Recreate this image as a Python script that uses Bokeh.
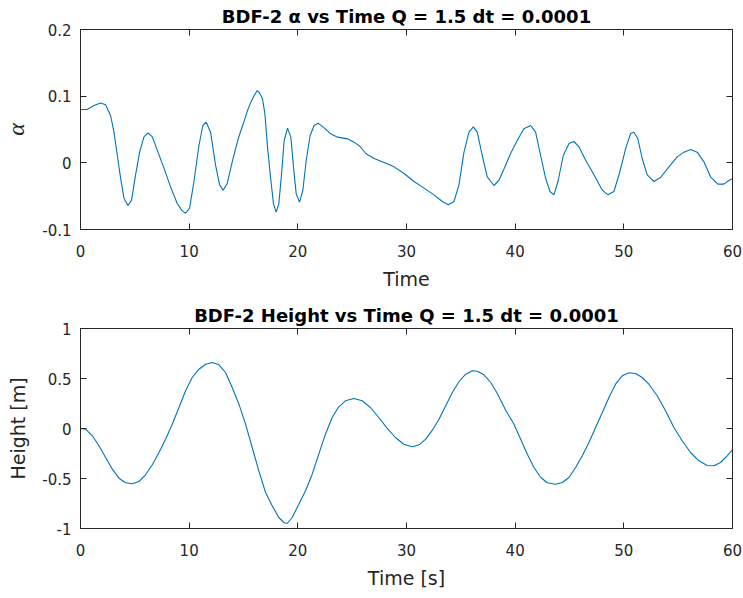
from bokeh.plotting import figure
from bokeh.layouts import column
from bokeh.models import Range1d, LinearAxis, FixedTicker, CustomJSTickFormatter
from bokeh.embed import file_html
from bokeh.resources import INLINE

# ---- data ----
alpha_time = [0.0, 0.63, 1.24, 1.85, 2.31, 2.77, 3.08, 3.39, 3.69, 4.0,
              4.37, 4.70, 5.07, 5.44, 5.84, 6.21, 6.61, 7.06, 7.68, 8.29,
              8.90, 9.36, 9.67, 10.04, 10.44, 10.9, 11.26, 11.57, 11.97, 12.43,
              12.8, 13.13, 13.5, 13.96, 14.51, 14.76, 15.03, 15.37, 15.65, 15.98,
              16.25, 16.44, 16.75, 16.97, 17.21, 17.52, 17.76, 18.01, 18.25, 18.5,
              18.74, 19.05, 19.36, 19.6, 19.85, 20.15, 20.46, 20.77, 21.13, 21.5,
              21.87, 22.42, 23.03, 23.65, 24.57, 25.18, 25.73, 26.25, 27.02, 27.94,
              28.86, 29.78, 30.69, 31.61, 32.53, 33.3, 33.85, 34.37, 34.83, 35.29,
              35.75, 36.15, 36.51, 36.97, 37.43, 38.05, 38.51, 39.12, 39.58, 40.2,
              40.8, 41.43, 41.88, 42.34, 42.8, 43.2, 43.57, 43.94, 44.43, 44.95,
              45.41, 45.87, 46.49, 47.25, 48.02, 48.54, 49.09, 49.64, 50.16, 50.62,
              50.93, 51.29, 51.69, 52.15, 52.77, 53.38, 54.15, 54.91, 55.53, 56.14,
              56.75, 57.37, 57.98, 58.65, 59.2, 59.82, 60.0]
alpha_vals = [0.080, 0.080, 0.086, 0.0896, 0.087, 0.071, 0.046, 0.011, -0.023, -0.053,
              -0.064, -0.056, -0.018, 0.016, 0.039, 0.045, 0.039, 0.019, -0.008, -0.036,
              -0.061, -0.072, -0.0756, -0.068, -0.028, 0.026, 0.056, 0.061, 0.046, -0.0035,
              -0.033, -0.041, -0.031, 0.0015, 0.036, 0.0485, 0.061, 0.0785, 0.09, 0.101,
              0.108, 0.106, 0.096, 0.0735, 0.0235, -0.0265, -0.0615, -0.074, -0.0615, -0.0165,
              0.0335, 0.052, 0.0385, -0.0065, -0.0465, -0.059, -0.0415, 0.0035, 0.041, 0.056,
              0.0595, 0.0525, 0.0435, 0.0385, 0.036, 0.031, 0.0245, 0.014, 0.0065, 0.0005,
              -0.006, -0.016, -0.028, -0.038, -0.048, -0.058, -0.063, -0.058, -0.033, 0.016,
              0.046, 0.054, 0.046, 0.011, -0.021, -0.034, -0.026, -0.0035, 0.014, 0.034,
              0.051, 0.056, 0.046, 0.011, -0.023, -0.043, -0.048, -0.028, 0.011, 0.029,
              0.032, 0.024, 0.004, -0.018, -0.041, -0.048, -0.043, -0.013, 0.021, 0.044,
              0.046, 0.036, 0.0065, -0.018, -0.028, -0.022, -0.006, 0.009, 0.016, 0.020,
              0.016, 0.0015, -0.021, -0.032, -0.032, -0.025, -0.024]

height_time = [0.0, 0.48, 1.09, 1.70, 2.31, 2.93, 3.54, 4.15, 4.77, 5.38,
               5.99, 6.61, 7.22, 7.83, 8.44, 9.06, 9.67, 10.28, 10.9, 11.51,
               12.12, 12.74, 13.35, 13.96, 14.58, 15.19, 15.8, 16.41, 17.03, 17.64,
               18.25, 18.71, 19.02, 19.48, 20.09, 20.71, 21.32, 21.93, 22.54, 23.16,
               23.77, 24.38, 25.15, 25.92, 26.68, 27.45, 28.21, 28.98, 29.75, 30.54,
               31.16, 31.77, 32.38, 32.99, 33.61, 34.22, 34.84, 35.45, 36.06, 36.52,
               37.13, 37.75, 38.36, 39.13, 39.89, 40.51, 41.12, 41.73, 42.35, 42.96,
               43.72, 44.34, 44.95, 45.56, 46.18, 46.79, 47.4, 48.02, 48.63, 49.24,
               49.85, 50.47, 51.08, 51.69, 52.31, 53.07, 53.84, 54.61, 55.37, 56.14,
               56.91, 57.67, 58.29, 58.9, 59.51, 60.0]
height_vals = [0.0, -0.007, -0.073, -0.173, -0.29, -0.407, -0.497, -0.543, -0.553, -0.53,
               -0.463, -0.363, -0.24, -0.107, 0.043, 0.21, 0.377, 0.51, 0.593, 0.643,
               0.66, 0.637, 0.56, 0.41, 0.243, 0.043, -0.19, -0.423, -0.64, -0.773,
               -0.89, -0.94, -0.95, -0.89, -0.757, -0.623, -0.457, -0.257, -0.057, 0.11,
               0.217, 0.277, 0.30, 0.277, 0.21, 0.11, 0.003, -0.09, -0.157, -0.183,
               -0.163, -0.107, -0.017, 0.093, 0.227, 0.36, 0.47, 0.543, 0.577, 0.573,
               0.537, 0.46, 0.35, 0.183, 0.043, -0.107, -0.257, -0.39, -0.49, -0.543,
               -0.557, -0.54, -0.49, -0.39, -0.273, -0.14, 0.01, 0.16, 0.31, 0.443,
               0.527, 0.557, 0.55, 0.51, 0.443, 0.327, 0.177, 0.01, -0.123, -0.24,
               -0.323, -0.37, -0.373, -0.34, -0.273, -0.21]

x_ticks = [0, 10, 20, 30, 40, 50, 60]
alpha_ticks = [-0.1, 0, 0.1, 0.2]
height_ticks = [-1, -0.5, 0, 0.5, 1]

title_top = "BDF-2 \u03b1 vs Time Q = 1.5 dt = 0.0001"
title_bottom = "BDF-2 Height vs Time Q = 1.5 dt = 0.0001"

AX = "#262626"
LINE = "#0072BD"
FONT = "DejaVu Sans"
TICK_FS = "15px"
LABEL_FS = "19px"
TITLE_FS = "18px"

fmt = CustomJSTickFormatter(code="return String(Math.round(tick*10)/10);")
blank = CustomJSTickFormatter(code="return '';")


def style_axis(ax, show_labels=True):
    ax.axis_line_color = AX
    ax.major_tick_line_color = AX
    ax.major_tick_in = 6
    ax.major_tick_out = 0
    ax.minor_tick_line_color = None
    ax.major_label_text_color = AX
    ax.major_label_text_font = FONT
    ax.axis_label_text_color = AX
    ax.axis_label_text_font = FONT
    ax.axis_label_text_font_size = LABEL_FS
    ax.axis_label_text_font_style = "normal"
    if show_labels:
        ax.major_label_text_font_size = TICK_FS
    else:
        ax.formatter = blank
        ax.major_label_text_font_size = "1px"
        ax.major_label_standoff = 0


def make_fig(xs, ys, yr, yticks, title, xlabel, ylabel, ylabel_font, ylabel_style, ylabel_fs):
    p = figure(width=743, height=299, output_backend="svg", toolbar_location=None,
               x_range=Range1d(0, 60), y_range=Range1d(*yr),
               min_border_left=80, min_border_right=11,
               min_border_top=29, min_border_bottom=70)
    p.title.text = title
    p.title.align = "center"
    p.title.vertical_align = "top"
    p.title.text_font = FONT
    p.title.text_font_size = TITLE_FS
    p.title.text_font_style = "bold"
    p.title.text_color = "#000000"
    p.title.standoff = 2
    p.xgrid.visible = False
    p.ygrid.visible = False
    p.outline_line_color = AX
    p.outline_line_width = 1
    p.background_fill_color = "white"
    p.border_fill_color = "white"

    p.xaxis.ticker = FixedTicker(ticks=x_ticks)
    p.yaxis.ticker = FixedTicker(ticks=yticks)
    p.yaxis.formatter = fmt
    for ax in p.xaxis:
        style_axis(ax)
        ax.major_label_standoff = 15
        ax.axis_label_standoff = 8
    for ax in p.yaxis:
        style_axis(ax)
        ax.major_label_standoff = 9
        ax.axis_label_standoff = 10
    p.xaxis.axis_label = xlabel
    p.yaxis.axis_label = ylabel
    p.yaxis.axis_label_text_font = ylabel_font
    p.yaxis.axis_label_text_font_style = ylabel_style
    p.yaxis.axis_label_text_font_size = ylabel_fs

    top = LinearAxis(ticker=FixedTicker(ticks=x_ticks))
    style_axis(top, show_labels=False)
    p.add_layout(top, "above")
    right = LinearAxis(ticker=FixedTicker(ticks=yticks))
    style_axis(right, show_labels=False)
    p.add_layout(right, "right")

    p.line(xs, ys, line_color=LINE, line_width=1.1)
    return p


p1 = make_fig(alpha_time, alpha_vals, (-0.1, 0.2), alpha_ticks, title_top,
              "Time", "\u03b1", "Liberation Serif", "italic", "24px")
p2 = make_fig(height_time, height_vals, (-1, 1), height_ticks, title_bottom,
              "Time [s]", "Height [m]", FONT, "normal", LABEL_FS)

layout = column(p1, p2, spacing=0)
open("out.html", "w").write(file_html(layout, INLINE))
